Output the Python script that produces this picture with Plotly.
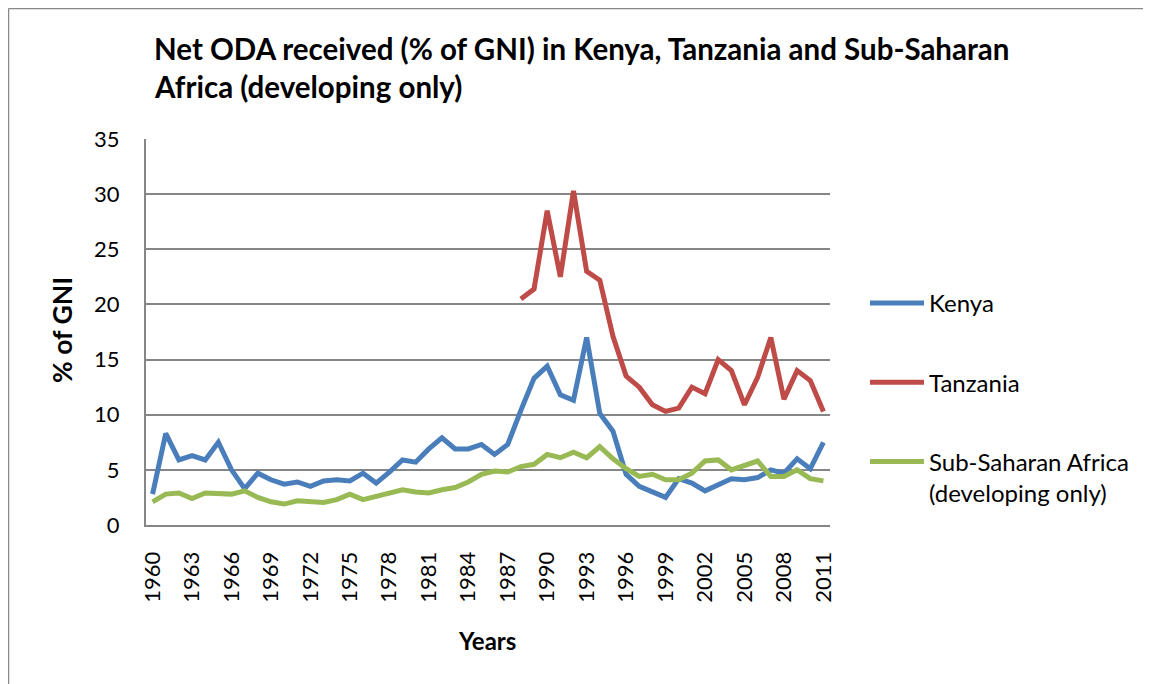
import plotly.graph_objects as go

years = list(range(1960, 2012))

kenya = [2.8, 8.3, 5.9, 6.3, 5.9, 7.5, 5.0, 3.3, 4.7, 4.1,
         3.7, 3.9, 3.5, 4.0, 4.1, 4.0, 4.7, 3.8, 4.8, 5.9,
         5.7, 6.9, 7.9, 6.9, 6.9, 7.3, 6.4, 7.3, 10.4, 13.3,
         14.4, 11.8, 11.3, 17.0, 10.1, 8.5, 4.6, 3.5, 3.0, 2.5,
         4.2, 3.8, 3.1, 3.6, 4.2, 4.1, 4.3, 5.0, 4.7, 6.0,
         5.1, 7.5]

tanzania = [None] * 28 + [20.5, 21.4, 28.5, 22.5, 30.3, 23.0, 22.2, 17.1, 13.5, 12.5,
                          10.9, 10.3, 10.6, 12.5, 11.9, 15.0, 14.0, 10.9, 13.4, 17.0,
                          11.4, 14.0, 13.1, 10.3]

ssa = [2.1, 2.8, 2.9, 2.4, 2.9, 2.8, 2.8, 3.1, 2.5, 2.1,
       1.9, 2.2, 2.1, 2.05, 2.3, 2.8, 2.3, 2.6, 3.0, 3.2,
       3.0, 2.9, 3.2, 3.4, 3.9, 4.6, 4.9, 4.8, 5.3, 5.5,
       6.4, 6.1, 6.6, 6.1, 7.1, 6.0, 5.1, 4.4, 4.6, 4.1,
       4.1, 4.7, 5.8, 5.9, 5.0, 5.4, 5.8, 4.4, 4.4, 5.0,
       4.2, 4.0]

series_names = ["Kenya", "Tanzania", "Sub-Saharan Africa<br>(developing only)"]
colors = ["#4A7EBB", "#BE4B48", "#98B954"]
tick_years = list(range(1960, 2012, 3))

FONT = "Lato"
OFF = 8  # page body margin
W, H = 1151 - OFF, 684 - OFF
L, T = 138, 131
R = W - 822
B = H - 517

fig = go.Figure()
for name, vals, col in zip(series_names, [kenya, tanzania, ssa], colors):
    fig.add_trace(go.Scatter(x=years, y=vals, mode="lines", name=name,
                             legendgroup=name,
                             line=dict(color=col, width=5),
                             connectgaps=False))

pw = W - L - R
ph = H - T - B

def px(x):  # screen x -> paper
    return (x - OFF - L) / pw

def py(y):  # screen y -> paper
    return (H - B - (y - OFF)) / ph

fig.update_layout(
    width=W, height=H,
    margin=dict(l=L, r=R, t=T, b=B),
    paper_bgcolor="white", plot_bgcolor="white",
    font=dict(family=FONT, size=22, color="#000000"),
    showlegend=True,
    legend=dict(x=px(865), y=py(281), xanchor="left", yanchor="top",
                font=dict(family=FONT, size=24, color="#000"),
                tracegroupgap=45, valign="top", itemwidth=54,
                bgcolor="rgba(0,0,0,0)"),
    xaxis=dict(range=[1959.5, 2011.5], tickvals=tick_years,
               ticktext=[str(y) for y in tick_years],
               tickangle=-90, showgrid=False, zeroline=False,
               showline=True, linecolor="#868686", linewidth=2,
               ticks="outside", ticklen=16, tickcolor="rgba(0,0,0,0)",
               tickfont=dict(family=FONT, size=22, color="#000")),
    yaxis=dict(range=[0, 35], dtick=5, showgrid=True, gridcolor="#868686",
               gridwidth=1.5, zeroline=False, showline=True,
               linecolor="#868686", linewidth=2,
               ticks="outside", ticklen=20, tickcolor="rgba(0,0,0,0)",
               tickfont=dict(family=FONT, size=22, color="#000")),
    annotations=[
        dict(text="<b>Net ODA received (% of GNI) in Kenya, Tanzania and Sub-Saharan</b>",
             x=px(152), y=py(48), xref="paper", yref="paper",
             xanchor="left", yanchor="middle", showarrow=False,
             font=dict(family=FONT, size=29.5, color="#000")),
        dict(text="<b>Africa (developing only)</b>",
             x=px(152), y=py(87), xref="paper", yref="paper",
             xanchor="left", yanchor="middle", showarrow=False,
             font=dict(family=FONT, size=29.5, color="#000")),
        dict(text="<b>% of GNI</b>", textangle=-90,
             x=px(62), y=py(330), xref="paper", yref="paper",
             xanchor="center", yanchor="middle", showarrow=False,
             font=dict(family=FONT, size=26.5, color="#000")),
        dict(text="<b>Years</b>",
             x=px(487), y=py(640), xref="paper", yref="paper",
             xanchor="center", yanchor="middle", showarrow=False,
             font=dict(family=FONT, size=24, color="#000")),
    ],
    shapes=[
        dict(type="line", xref="paper", yref="paper",
             x0=px(8.5), x1=px(1200), y0=py(8.5), y1=py(8.5),
             line=dict(color="#888888", width=1.5), layer="below"),
        dict(type="line", xref="paper", yref="paper",
             x0=px(8.5), x1=px(8.5), y0=py(8.5), y1=py(720),
             line=dict(color="#888888", width=1.5), layer="below"),
    ],
)

fig.write_html("out.html")
